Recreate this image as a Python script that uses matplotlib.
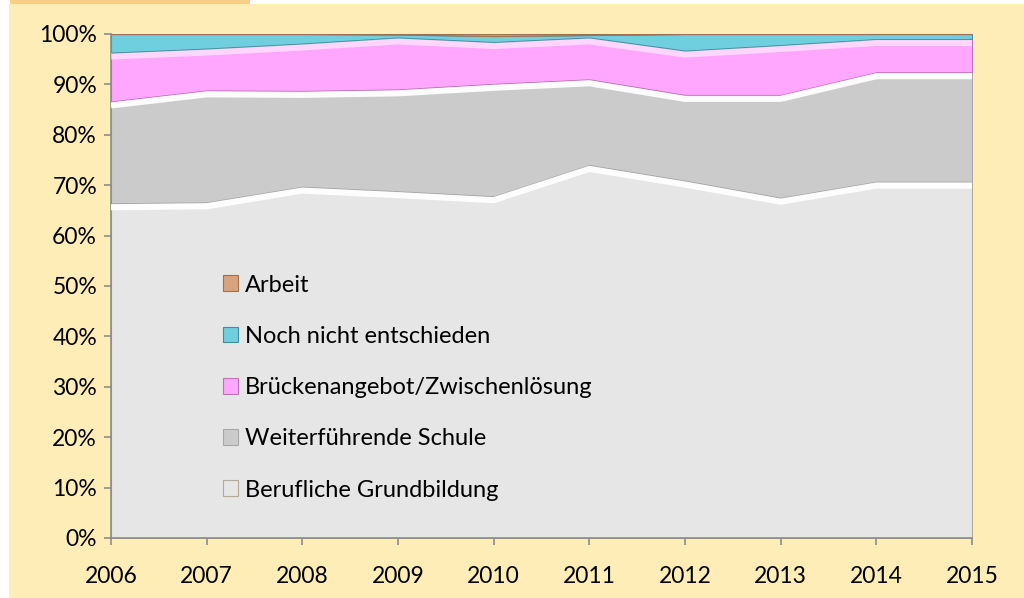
import numpy as np
import matplotlib
matplotlib.use('Agg')
import matplotlib.pyplot as plt
import matplotlib.transforms as mtransforms
from matplotlib.patches import Rectangle
from matplotlib.ticker import PercentFormatter

years = [2006, 2007, 2008, 2009, 2010, 2011, 2012, 2013, 2014, 2015]

# shares in percent
berufliche = [66.4, 66.6, 69.7, 68.8, 67.8, 74.0, 70.9, 67.5, 70.7, 70.7]
weiterfuehrende = [20.2, 22.2, 19.0, 20.2, 22.3, 17.0, 17.0, 20.4, 21.7, 21.7]
bruecken = [9.7, 8.3, 9.4, 10.3, 8.3, 8.3, 8.8, 9.9, 6.6, 6.6]
noch_nicht = [3.7, 2.9, 1.9, 0.6, 1.2, 0.5, 3.3, 2.2, 1.0, 1.0]
arbeit = [0.0, 0.0, 0.0, 0.1, 0.4, 0.2, 0.0, 0.0, 0.0, 0.0]

labels = ['Berufliche Grundbildung', 'Weiterführende Schule',
          'Brückenangebot/Zwischenlösung', 'Noch nicht entschieden', 'Arbeit']
colors = ['#e6e6e6', '#cbcbcb', '#ffa6ff', '#6fcfdf', '#d8a47c']
edges = ['#b5a898', '#a8a8a8', '#c070b8', '#3f8f9c', '#a07050']

plt.rcParams['font.family'] = ['Lato', 'DejaVu Sans']

fig = plt.figure(figsize=(10.24, 5.98), dpi=100)
fig.patch.set_facecolor('white')
fig.patches.append(Rectangle((9 / 1024, 0), 1, 1 - 4 / 598, transform=fig.transFigure,
                             facecolor='#ffedb8', edgecolor='none', zorder=-10))
fig.patches.append(Rectangle((10 / 1024, 1 - 4 / 598), 240 / 1024, 4 / 598, transform=fig.transFigure,
                             facecolor='#f9cf86', edgecolor='none', zorder=-10))

ax = fig.add_axes([111 / 1024, 1 - 538 / 598, 861 / 1024, 504 / 598])
ax.set_facecolor('none')

series = [berufliche, weiterfuehrende, bruecken, noch_nicht, arbeit]
polys = ax.stackplot(years, *series, colors=colors, labels=labels)
for p, ec in zip(polys, edges):
    p.set_edgecolor(ec)
    p.set_linewidth(0.8)

# bevel highlight under each boundary
cum = np.cumsum(np.array(series), axis=0)
shift = mtransforms.offset_copy(ax.transData, fig=fig, x=0, y=-2.8, units='points')
for top, a in zip(cum[:3], [0.95, 0.95, 0.55]):
    ax.plot(years, top, color='white', lw=4.4, alpha=a, transform=shift,
            solid_capstyle='butt', zorder=3)

ax.set_xlim(2006, 2015)
ax.set_ylim(0, 100)
ax.set_xticks(years)
ax.set_yticks(np.arange(0, 101, 10))
ax.yaxis.set_major_formatter(PercentFormatter(decimals=0))

for s in ['top', 'right']:
    ax.spines[s].set_visible(False)
for s in ['left', 'bottom']:
    ax.spines[s].set_color('#8c8c8c')
    ax.spines[s].set_linewidth(1.2)
ax.tick_params(axis='both', direction='out', length=5, color='#8c8c8c', width=1.2,
               labelsize=16.5, labelcolor='black')
ax.tick_params(axis='x', pad=15)
ax.tick_params(axis='y', pad=5)

handles, labs = ax.get_legend_handles_labels()
ax.legend(handles[::-1], labs[::-1], loc='upper left', bbox_to_anchor=(0.116, 0.546),
          frameon=False, fontsize=17, labelspacing=1.28, handlelength=0.65,
          handleheight=0.65, handletextpad=0.3, borderpad=0)

fig.savefig('out.png', dpi=100, facecolor=fig.get_facecolor())
